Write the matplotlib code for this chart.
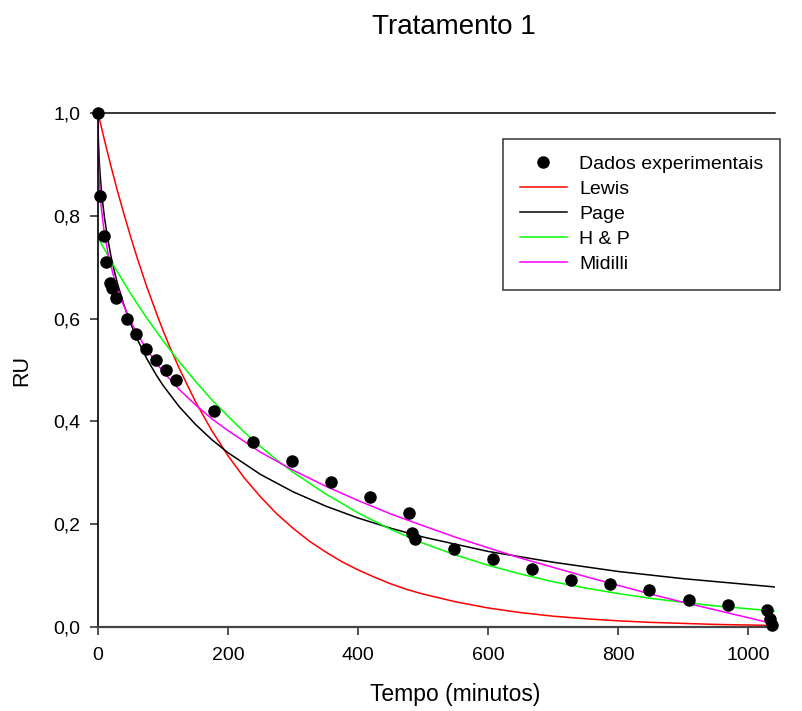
import numpy as np
import matplotlib
matplotlib.use('Agg')
import matplotlib.pyplot as plt

plt.rcParams['font.family'] = ['Liberation Sans', 'DejaVu Sans']

# experimental drying data
tempo = [0, 3, 9, 12, 18, 22, 28, 44, 59, 74, 89, 104, 120,
         178, 238, 298, 358, 418, 478, 483, 488, 548, 608, 668,
         727, 788, 848, 908, 968, 1028, 1033, 1037]
ru = [1.0, 0.839, 0.760, 0.710, 0.669, 0.660, 0.640, 0.600, 0.570,
      0.541, 0.520, 0.500, 0.481, 0.421, 0.360, 0.322, 0.282, 0.252,
      0.221, 0.182, 0.171, 0.151, 0.132, 0.112, 0.091, 0.083, 0.072,
      0.0525, 0.042, 0.033, 0.015, 0.003]

# fitted model curves
t_lewis = [0, 10, 20, 30, 40, 50, 60, 75, 90, 100, 110, 125, 150, 175,
           200, 225, 250, 275, 300, 325, 350, 375, 400, 425, 450, 475,
           500, 550, 600, 650, 700, 750, 800, 850, 900, 950, 1040]
ru_lewis = [1.0, 0.947, 0.896, 0.848, 0.803, 0.760, 0.719, 0.662, 0.610,
            0.577, 0.546, 0.503, 0.438, 0.382, 0.333, 0.290, 0.253, 0.220,
            0.192, 0.167, 0.146, 0.127, 0.111, 0.097, 0.084, 0.073, 0.064,
            0.049, 0.037, 0.028, 0.021, 0.016, 0.012, 0.009, 0.007, 0.005,
            0.003]

t_page = [0, 0.02, 0.1, 0.25, 0.5, 1, 1.5, 2, 3, 5, 7, 10, 15, 20, 25,
          30, 40, 50, 60, 75, 90, 100, 125, 150, 175, 200, 250, 300, 350,
          400, 450, 500, 600, 700, 800, 900, 1040]
ru_page = [1.0, 0.991, 0.979, 0.967, 0.953, 0.934, 0.919, 0.906, 0.885,
           0.853, 0.828, 0.796, 0.755, 0.721, 0.693, 0.668, 0.626, 0.591,
           0.561, 0.522, 0.4895, 0.470, 0.4285, 0.394, 0.3645, 0.339,
           0.2967, 0.263, 0.2353, 0.212, 0.1922, 0.175, 0.147, 0.126,
           0.108, 0.094, 0.078]

t_hp = [0, 25, 50, 75, 100, 125, 150, 175, 200, 225, 250, 275, 300, 350,
        400, 450, 500, 550, 600, 650, 700, 750, 800, 850, 900, 950, 1040]
ru_hp = [0.757, 0.701, 0.649, 0.601, 0.557, 0.516, 0.478, 0.442, 0.410,
         0.379, 0.351, 0.325, 0.301, 0.259, 0.222, 0.190, 0.163, 0.140,
         0.120, 0.103, 0.088, 0.0757, 0.065, 0.0557, 0.048, 0.041, 0.031]

t_midilli = [0, 0.02, 0.1, 0.25, 0.5, 1, 1.5, 2, 3, 5, 7, 10, 15, 20, 25,
             30, 40, 50, 60, 75, 90, 100, 125, 150, 175, 200, 250, 300,
             350, 400, 450, 500, 550, 600, 650, 700, 750, 800, 850, 900,
             950, 1000, 1040]
ru_midilli = [1.0, 0.978, 0.959, 0.941, 0.923, 0.900, 0.883, 0.870, 0.848,
              0.817, 0.794, 0.765, 0.730, 0.702, 0.678, 0.658, 0.624,
              0.595, 0.571, 0.540, 0.513, 0.497, 0.462, 0.432, 0.405,
              0.382, 0.340, 0.305, 0.274, 0.246, 0.220, 0.197, 0.1745,
              0.154, 0.134, 0.116, 0.098, 0.081, 0.064, 0.048, 0.033,
              0.018, 0.006]

xticks = [0, 200, 400, 600, 800, 1000]
yticks = [0.0, 0.2, 0.4, 0.6, 0.8, 1.0]
ylabels = ['0,0', '0,2', '0,4', '0,6', '0,8', '1,0']

fig = plt.figure(figsize=(8.03, 7.11), dpi=100)
ax = fig.add_axes([98 / 803, 1 - 627 / 711, 677 / 803, 514 / 711])

ax.plot(tempo, ru, 'o', color='black', markersize=8, clip_on=False,
        zorder=5, label='Dados experimentais')
ax.plot(t_lewis, ru_lewis, color='#ff0000', lw=1.1, label='Lewis')
ax.plot(t_page, ru_page, color='black', lw=1.1, label='Page')
ax.plot(t_hp, ru_hp, color='#00ff00', lw=1.1, label='H & P')
ax.plot(t_midilli, ru_midilli, color='#ff00ff', lw=1.1, label='Midilli')

ax.set_xlim(0, 1041)
ax.set_ylim(0, 1.0)
ax.set_xticks(xticks)
ax.set_xticklabels([str(v) for v in xticks])
ax.set_yticks(yticks)
ax.set_yticklabels(ylabels)
ax.tick_params(direction='out', length=5.5, width=1.1, labelsize=14,
               color='#222222')
ax.tick_params(axis='x', pad=9)
ax.tick_params(axis='y', pad=7)

ax.spines['right'].set_visible(False)
ax.spines['top'].set_linewidth(1.1)
ax.spines['left'].set_linewidth(1.2)
ax.spines['bottom'].set_linewidth(1.6)
ax.spines['bottom'].set_color('#444444')

fig.text(454 / 803, 1 - 27 / 711, 'Tratamento 1', ha='center', va='center',
         fontsize=20)
fig.text(455 / 803, 1 - 694 / 711, 'Tempo (minutos)', ha='center',
         va='center', fontsize=16.5)
fig.text(22 / 803, 1 - 370 / 711, 'RU', ha='center', va='center',
         rotation=90, fontsize=15.5)

leg = ax.legend(loc='upper right', bbox_to_anchor=(780 / 803, 1 - 139 / 711),
                bbox_transform=fig.transFigure, borderaxespad=0,
                fontsize=14, numpoints=1, fancybox=False, frameon=True,
                handlelength=2.4, handletextpad=0.65, labelspacing=0.38,
                borderpad=0.85)
leg.get_frame().set_edgecolor('black')
leg.get_frame().set_linewidth(1.1)

fig.savefig('out.png', dpi=100)
